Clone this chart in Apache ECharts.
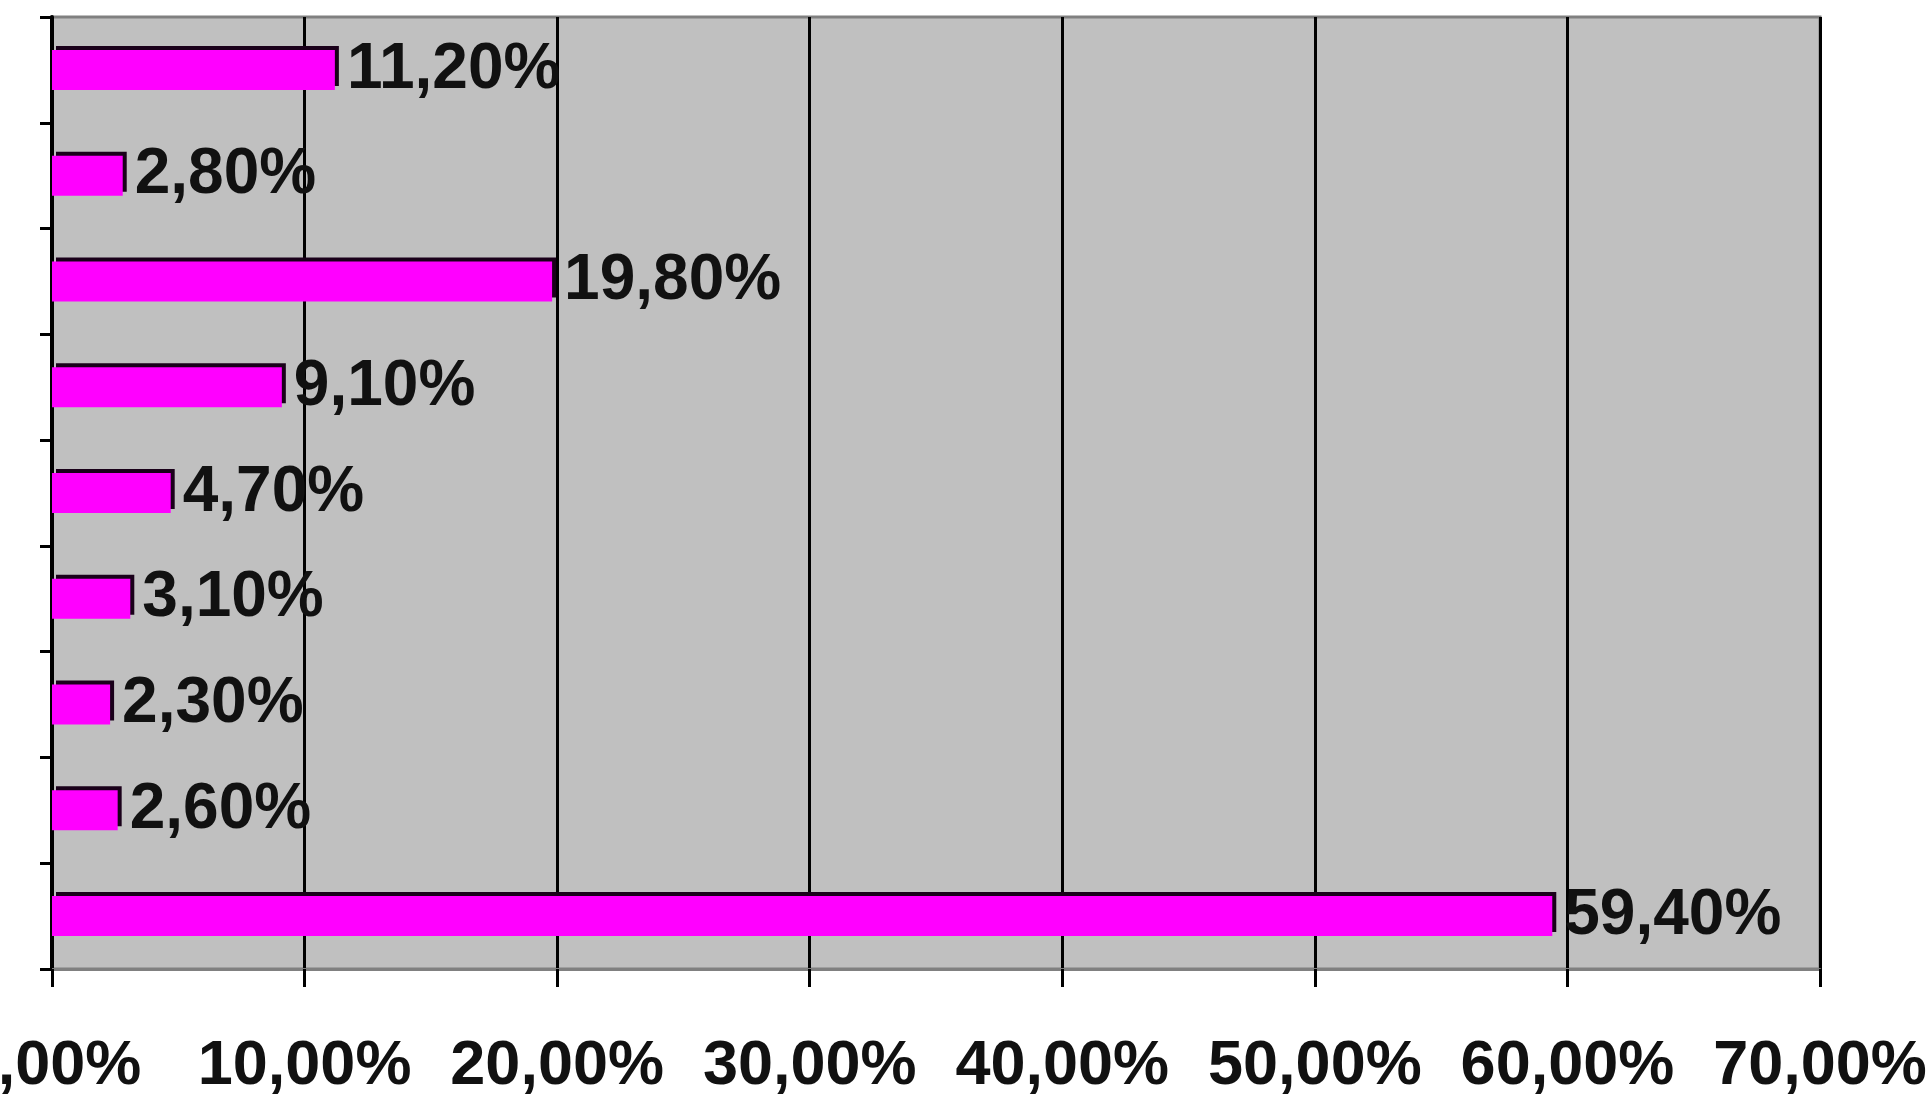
<!DOCTYPE html>
<html>
<head>
<meta charset="utf-8">
<script src="https://cdn.jsdelivr.net/npm/echarts@6/dist/echarts.min.js"></script>
<style>
html,body{margin:0;padding:0;background:#fff;}
#c{width:1932px;height:1105px;}
</style>
</head>
<body>
<div id="c"></div>
<script>
// Data (top to bottom as drawn)
const categories = ['1','2','3','4','5','6','7','8','9'];
const values = [11.2, 2.8, 19.8, 9.1, 4.7, 3.1, 2.3, 2.6, 59.4];
const xTicks = [0, 10, 20, 30, 40, 50, 60, 70];

const FONT = "'Liberation Sans', Arial, sans-serif";
const fmt = v => v.toFixed(2).replace('.', ',') + '%';

const chart = echarts.init(document.getElementById('c'));
chart.setOption({
  animation: false,
  backgroundColor: '#ffffff',
  grid: {
    left: 52, right: 112, top: 17, bottom: 136,
    outerBoundsMode: 'none',
    containLabel: false,
    show: true,
    backgroundColor: '#c0c0c0',
    borderColor: '#808080',
    borderWidth: 3
  },
  xAxis: {
    type: 'value',
    min: xTicks[0], max: xTicks[xTicks.length - 1], interval: 10,
    axisLine: { show: true, lineStyle: { color: '#808080', width: 3 } },
    axisTick: { show: true, length: 18, lineStyle: { color: '#000', width: 3 } },
    splitLine: { show: true, lineStyle: { color: '#000', width: 3 } },
    axisLabel: {
      margin: 66,
      hideOverlap: false,
      fontFamily: FONT, fontWeight: 'bold', fontSize: 63, color: '#111',
      formatter: v => fmt(v)
    }
  },
  yAxis: {
    type: 'category',
    data: categories,
    inverse: true,
    axisLine: { show: true, lineStyle: { color: '#000', width: 4 } },
    axisTick: { show: true, length: 12, lineStyle: { color: '#000', width: 3 } },
    axisLabel: { show: false },
    splitLine: { show: false }
  },
  series: [{
    type: 'bar',
    data: values,
    barWidth: 40,
    itemStyle: {
      color: '#ff00ff',
      shadowColor: '#1a001a',
      shadowBlur: 0,
      shadowOffsetX: 4,
      shadowOffsetY: -4
    },
    label: {
      show: true,
      position: 'right',
      distance: 12,
      fontFamily: FONT, fontWeight: 'bold', fontSize: 64, color: '#111',
      formatter: p => fmt(p.value)
    }
  }]
});
</script>
</body>
</html>
